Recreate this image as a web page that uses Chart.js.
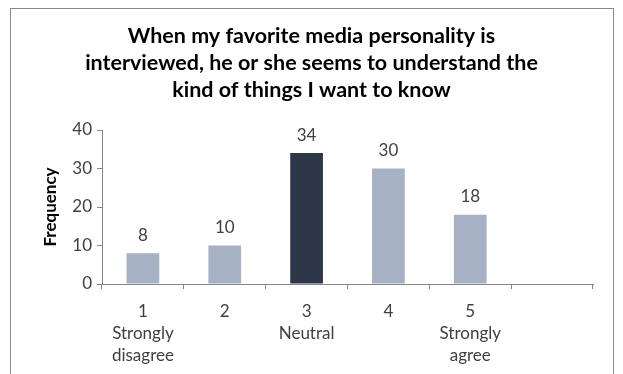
<!DOCTYPE html>
<html lang="en">
<head>
    <meta charset="UTF-8">
    <title>Favorite media personality</title>
    <script src="https://cdn.jsdelivr.net/npm/chart.js"></script>
    <style>
        body { margin: 0; background: #fff; }
        .frame { position: absolute; left: 10px; top: 8px; width: 602px; height: 400px; border: 1px solid #8c8c8c; }
        #chart { position: absolute; left: 0; top: 0; }
    </style>
</head>
<body>
    <div class="frame"></div>
    <canvas id="chart" width="623" height="374"></canvas>
    <script>
        const titleLines = ['When my favorite media personality is', 'interviewed, he or she seems to understand the', 'kind of things I want to know'];
        const categories = [['1', 'Strongly', 'disagree'], '2', ['3', 'Neutral'], '4', ['5', 'Strongly', 'agree'], ''];
        const frequency = [8, 10, 34, 30, 18, null];
        const barColors = ['#a7b1c4', '#a7b1c4', '#2e3749', '#a7b1c4', '#a7b1c4', '#a7b1c4'];
        const yTicks = [0, 10, 20, 30, 40];

        const FONT = 'Lato, "Open Sans", sans-serif';
        const TEXT = '#404040';

        // value labels above each bar
        const valueLabels = {
            id: 'valueLabels',
            afterDatasetsDraw(chart) {
                const c = chart.ctx;
                const meta = chart.getDatasetMeta(0);
                c.save();
                c.font = '17px ' + FONT;
                c.fillStyle = TEXT;
                c.textAlign = 'center';
                c.textBaseline = 'middle';
                meta.data.forEach((bar, i) => {
                    if (frequency[i] == null) return;
                    c.fillText(frequency[i], bar.x, bar.y - 18);
                });
                c.restore();
            }
        };

        new Chart(document.getElementById('chart').getContext('2d'), {
            type: 'bar',
            data: {
                labels: categories,
                datasets: [{
                    data: frequency,
                    backgroundColor: barColors,
                    categoryPercentage: 0.8,
                    barPercentage: 0.5
                }]
            },
            options: {
                responsive: false,
                animation: false,
                layout: { padding: { left: 30, right: 30, top: 0, bottom: 0 } },
                plugins: {
                    legend: { display: false },
                    tooltip: { enabled: false },
                    title: {
                        display: true,
                        text: titleLines,
                        color: '#000',
                        font: { family: FONT, size: 21.5, weight: 'bold', lineHeight: 1.256 },
                        padding: { top: 23, bottom: 26 }
                    }
                },
                scales: {
                    x: {
                        grid: { display: true, drawOnChartArea: false, drawTicks: true, tickLength: 5, offset: true, color: '#868686' },
                        border: { color: '#868686' },
                        ticks: { color: TEXT, font: { family: FONT, size: 17, lineHeight: 1.29 }, padding: 12, maxRotation: 0, autoSkip: false },
                        afterFit(scale) { scale.height = 90; }
                    },
                    y: {
                        min: 0,
                        max: 40,
                        afterBuildTicks(scale) { scale.ticks = yTicks.map(v => ({ value: v })); },
                        grid: { display: true, drawOnChartArea: false, drawTicks: true, tickLength: 5, color: '#868686' },
                        border: { color: '#868686' },
                        ticks: { color: TEXT, font: { family: FONT, size: 17 }, padding: 5 },
                        title: { display: true, text: 'Frequency', color: '#000', font: { family: FONT, size: 17, weight: 'bold' }, padding: { top: 10, bottom: 0 } },
                        afterFit(scale) { scale.width = 72; }
                    }
                }
            },
            plugins: [valueLabels]
        });
    </script>
</body>
</html>
